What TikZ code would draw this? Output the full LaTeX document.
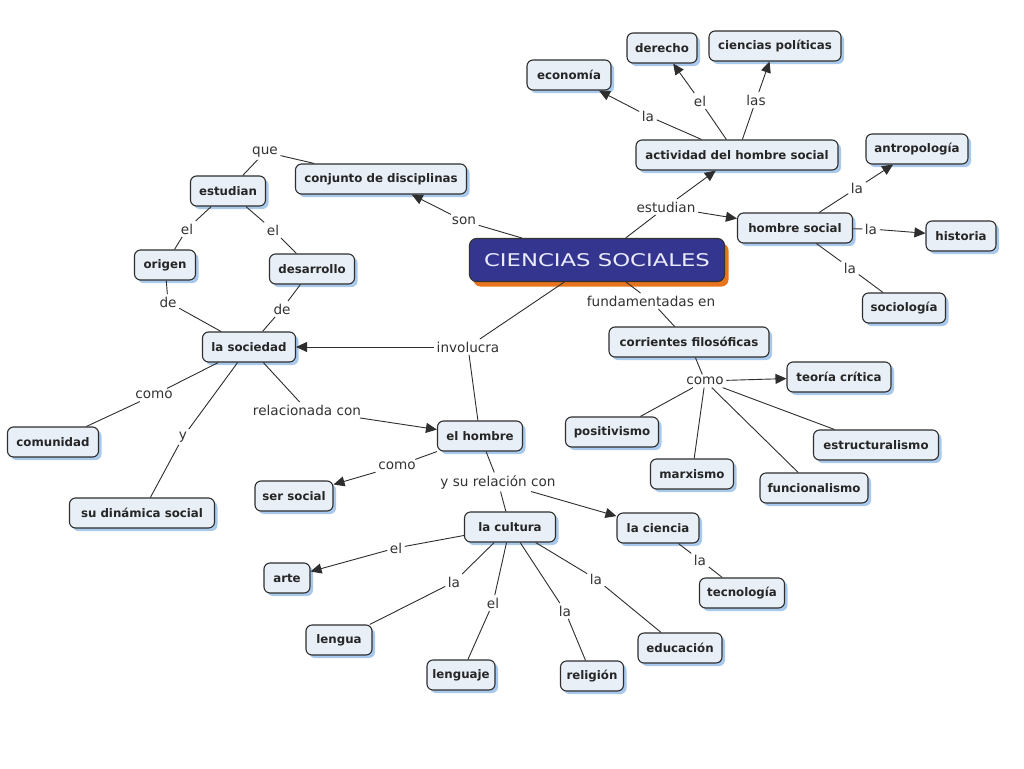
\documentclass[tikz,border=0pt]{standalone}
\usepackage{fontspec}
\setmainfont{DejaVu Sans}
\newfontfamily\widefont[FakeStretch=1.3]{DejaVu Sans}
\usetikzlibrary{shadows,arrows.meta}
\definecolor{boxfill}{HTML}{E8EFF6}
\definecolor{shadowblue}{HTML}{A9C9EC}
\definecolor{mainblue}{HTML}{34358F}
\definecolor{mainorange}{HTML}{E8741E}
\definecolor{linecol}{HTML}{2E2E2E}
\begin{document}
\begin{tikzpicture}[x=1pt,y=-1pt,
 concept/.style={draw=linecol, line width=1.1pt, fill=boxfill, rounded corners=6pt,
   font=\bfseries\fontsize{11.8}{14}\selectfont, text=black!85, inner sep=0pt,
   minimum height=30pt,
   drop shadow={shadow xshift=3pt, shadow yshift=-3pt, fill=shadowblue, opacity=1}},
 link/.style={font=\fontsize{13.6}{16}\selectfont, text=black!80, inner sep=2.5pt},
 conn/.style={draw=linecol, line width=0.9pt},
 arr/.style={conn, -{Triangle[length=11pt,width=10pt]}},
]
\useasboundingbox (0,0) rectangle (1024,768);
\fill[white] (0,0) rectangle (1024,768);

% main concept
\node[draw=black!80, line width=1.1pt, fill=mainblue, rounded corners=7pt,
  minimum width=255pt, minimum height=43pt, inner sep=0pt, text=white!92!blue,
  font=\widefont\fontsize{17.5}{20}\selectfont,
  drop shadow={shadow xshift=4pt, shadow yshift=-5pt, fill=mainorange, opacity=1}]
  (cs) at (597,260) {CIENCIAS SOCIALES};

% concepts
\node[concept, minimum width=84pt] (economia) at (569,75) {economía};
\node[concept, minimum width=70pt] (derecho) at (662,48) {derecho};
\node[concept, minimum width=132pt] (cpol) at (775,46) {ciencias políticas};
\node[concept, minimum width=202pt] (actividad) at (737,155) {actividad del hombre social};
\node[concept, minimum width=102pt] (antrop) at (917,149) {antropología};
\node[concept, minimum width=115pt] (hsocial) at (795,228) {hombre social};
\node[concept, minimum width=70pt] (historia) at (961,236) {historia};
\node[concept, minimum width=83pt] (sociol) at (904,308) {sociología};
\node[concept, minimum width=171pt] (conjunto) at (381,179) {conjunto de disciplinas};
\node[concept, minimum width=75pt] (estudianc) at (228,191) {estudian};
\node[concept, minimum width=61pt] (origen) at (165,265) {origen};
\node[concept, minimum width=85pt] (desarrollo) at (312,269) {desarrollo};
\node[concept, minimum width=93pt] (sociedad) at (249,347) {la sociedad};
\node[concept, minimum width=91pt] (comunidad) at (53,442) {comunidad};
\node[concept, minimum width=145pt] (dinamica) at (142,513) {su dinámica social};
\node[concept, minimum width=85pt] (hombre) at (480,436) {el hombre};
\node[concept, minimum width=78pt] (sersocial) at (294,496) {ser social};
\node[concept, minimum width=91pt] (cultura) at (510,527) {la cultura};
\node[concept, minimum width=82pt] (ciencia) at (658,528) {la ciencia};
\node[concept, minimum width=85pt] (tecno) at (742,593) {tecnología};
\node[concept, minimum width=46pt] (arte) at (287,578) {arte};
\node[concept, minimum width=66pt] (lengua) at (339,640) {lengua};
\node[concept, minimum width=68pt] (lenguaje) at (461,675) {lenguaje};
\node[concept, minimum width=63pt] (religion) at (592,676) {religión};
\node[concept, minimum width=84pt] (educacion) at (680,648) {educación};
\node[concept, minimum width=160pt] (corrientes) at (689,342) {corrientes filosóficas};
\node[concept, minimum width=104pt] (teoria) at (839,377) {teoría crítica};
\node[concept, minimum width=93pt] (positiv) at (612,432) {positivismo};
\node[concept, minimum width=83pt] (marx) at (692,474) {marxismo};
\node[concept, minimum width=108pt] (funcio) at (814,488) {funcionalismo};
\node[concept, minimum width=125pt] (estruct) at (876,445) {estructuralismo};

% linking phrases
\node[link] (que) at (265,152) {que};
\node[link] (son) at (464,221) {son};
\node[link] (elA) at (187,229) {el};
\node[link] (elB) at (273,230) {el};
\node[link] (deA) at (168,302) {de};
\node[link] (deB) at (282,309) {de};
\node[link] (involucra) at (468,347) {involucra};
\node[link] (comoA) at (154,395) {como};
\node[link] (yA) at (183,437) {y};
\node[link] (relac) at (307,410) {relacionada con};
\node[link] (comoB) at (397,466) {como};
\node[link] (ysu) at (498,482) {y su relación con};
\node[link] (elArte) at (396,548) {el};
\node[link] (laLengua) at (454,582) {la};
\node[link] (elLenguaje) at (493,603) {el};
\node[link] (laRelig) at (565,611) {la};
\node[link] (laEduc) at (596,579) {la};
\node[link] (laTecno) at (700,560) {la};
\node[link] (fund) at (651,301) {fundamentadas en};
\node[link] (comoC) at (705,381) {como};
\node[link] (estudianl) at (666,207) {estudian};
\node[link] (laEcon) at (648,116) {la};
\node[link] (elDer) at (700,101) {el};
\node[link] (lasCP) at (756,100) {las};
\node[link] (laAntr) at (857,188) {la};
\node[link] (laHist) at (871,229) {la};
\node[link] (laSoc) at (850,268) {la};

% connectors
\draw[conn] (estudianc) -- (que);
\draw[conn] (que) -- (conjunto);
\draw[conn] (cs) -- (son);
\draw[arr] (son) -- (conjunto);
\draw[conn] (estudianc) -- (elA);
\draw[conn] (elA) -- (origen);
\draw[conn] (estudianc) -- (elB);
\draw[conn] (elB) -- (desarrollo);
\draw[conn] (origen) -- (deA);
\draw[conn] (deA) -- (sociedad);
\draw[conn] (desarrollo) -- (deB);
\draw[conn] (deB) -- (sociedad);
\draw[conn] (cs) -- (involucra);
\draw[arr] (involucra) -- (sociedad);
\draw[conn] (involucra) -- (hombre);
\draw[conn] (sociedad) -- (comoA);
\draw[conn] (comoA) -- (comunidad);
\draw[conn] (sociedad) -- (yA);
\draw[conn] (yA) -- (dinamica);
\draw[conn] (sociedad) -- (relac);
\draw[arr] (relac) -- (hombre);
\draw[conn] (hombre) -- (comoB);
\draw[arr] (comoB) -- (sersocial);
\draw[conn] (hombre) -- (ysu);
\draw[conn] (ysu) -- (cultura);
\draw[arr] (ysu) -- (ciencia);
\draw[conn] (cultura) -- (elArte);
\draw[arr] (elArte) -- (arte);
\draw[conn] (cultura) -- (laLengua);
\draw[conn] (laLengua) -- (lengua);
\draw[conn] (cultura) -- (elLenguaje);
\draw[conn] (elLenguaje) -- (lenguaje);
\draw[conn] (cultura) -- (laRelig);
\draw[conn] (laRelig) -- (religion);
\draw[conn] (cultura) -- (laEduc);
\draw[conn] (laEduc) -- (educacion);
\draw[conn] (ciencia) -- (laTecno);
\draw[conn] (laTecno) -- (tecno);
\draw[conn] (cs) -- (fund);
\draw[conn] (fund) -- (corrientes);
\draw[conn] (corrientes) -- (comoC);
\draw[arr] (comoC) -- (teoria);
\draw[conn] (comoC) -- (positiv);
\draw[conn] (comoC) -- (marx);
\draw[conn] (comoC) -- (funcio);
\draw[conn] (comoC) -- (estruct);
\draw[conn] (cs) -- (estudianl);
\draw[arr] (estudianl) -- (actividad);
\draw[arr] (estudianl) -- (hsocial);
\draw[conn] (actividad) -- (laEcon);
\draw[arr] (laEcon) -- (economia);
\draw[conn] (actividad) -- (elDer);
\draw[arr] (elDer) -- (derecho);
\draw[conn] (actividad) -- (lasCP);
\draw[arr] (lasCP) -- (cpol);
\draw[conn] (hsocial) -- (laAntr);
\draw[arr] (laAntr) -- (antrop);
\draw[conn] (hsocial) -- (laHist);
\draw[arr] (laHist) -- (historia);
\draw[conn] (hsocial) -- (laSoc);
\draw[conn] (laSoc) -- (sociol);
\end{tikzpicture}
\end{document}
